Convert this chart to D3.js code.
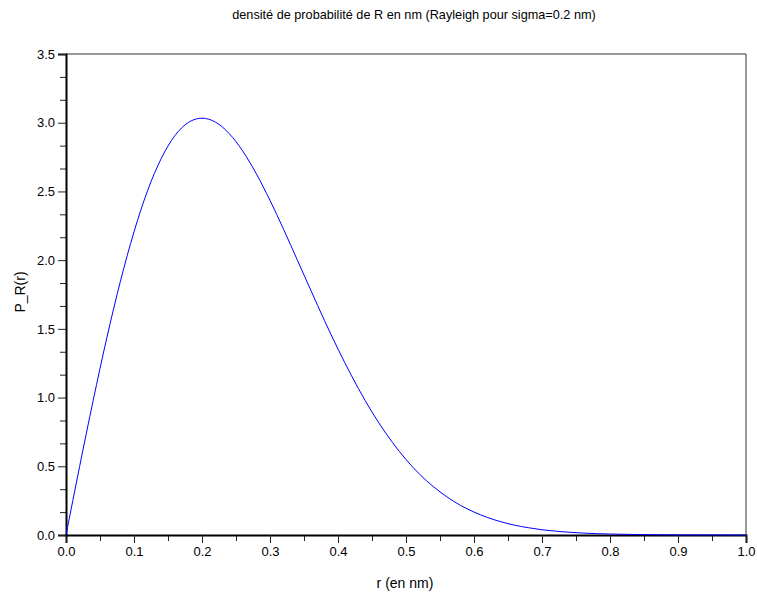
<!DOCTYPE html>
<html>
<head>
<meta charset="utf-8">
<script src="https://cdn.jsdelivr.net/npm/d3@7"></script>
<style>
body { margin: 0; background: #fff; }
svg { display: block; font-family: "Liberation Sans", Arial, sans-serif; }
</style>
</head>
<body>
<svg id="viz"></svg>
<script>
// values (r in nm, density)
var rValues = [0, 0.01, 0.02, 0.04, 0.06, 0.08, 0.10, 0.12, 0.14, 0.16, 0.18, 0.20,
    0.22, 0.24, 0.26, 0.28, 0.30, 0.32, 0.34, 0.36, 0.38, 0.40, 0.42, 0.44, 0.46,
    0.48, 0.50, 0.52, 0.54, 0.56, 0.58, 0.60, 0.62, 0.64, 0.66, 0.68, 0.70, 0.72,
    0.74, 0.76, 0.78, 0.80, 0.85, 0.90, 0.95, 1.00]
var pValues = [0, 0.250, 0.498, 0.980, 1.434, 1.846, 2.206, 2.506, 2.739, 2.905, 3.002, 3.033,
    3.004, 2.921, 2.793, 2.627, 2.435, 2.224, 2.003, 1.781, 1.562, 1.353, 1.158, 0.978, 0.816,
    0.674, 0.549, 0.442, 0.353, 0.278, 0.216, 0.167, 0.127, 0.096, 0.071, 0.053, 0.038, 0.028,
    0.020, 0.014, 0.010, 0.007, 0.0025, 0.0009, 0.0003, 0.0001]
var xTicks = [0, 0.1, 0.2, 0.3, 0.4, 0.5, 0.6, 0.7, 0.8, 0.9, 1.0]
var yTicks = [0, 0.5, 1.0, 1.5, 2.0, 2.5, 3.0, 3.5]

var width = 757,
    height = 594
var margin = { top: 54, right: 11, bottom: 59, left: 66 }

var data = rValues.map((r, i) => ({ r: r, p: pValues[i] }))

var x = d3.scaleLinear()
    .domain([0, 1])
    .range([margin.left, width - margin.right])
var y = d3.scaleLinear()
    .domain([0, 3.5])
    .range([height - margin.bottom, margin.top])

var svg = d3.select("#viz")
    .attr("width", width)
    .attr("height", height)
    .attr("viewBox", [0, 0, width, height])

// frame top / right
svg.append("path")
    .attr("d", `M${x(0)},${y(3.5)}H${x(1)}V${y(0)}`)
    .attr("fill", "none")
    .attr("stroke", "#333")
    .attr("stroke-width", 1)

// minor ticks
var xMinor = d3.range(0, 10).map(i => i * 0.1 + 0.05)
var yMinor = []
yTicks.slice(0, -1).forEach(t => { yMinor.push(t + 0.5 / 3, t + 1 / 3) })

svg.append("g")
    .attr("transform", `translate(0,${y(0)})`)
    .call(d3.axisBottom(x).tickValues(xMinor).tickSize(6).tickFormat(""))
    .call(g => g.select(".domain").remove())
svg.append("g")
    .attr("transform", `translate(${x(0)},0)`)
    .call(d3.axisLeft(y).tickValues(yMinor).tickSize(6).tickFormat(""))
    .call(g => g.select(".domain").remove())

var xAxis = g => g
    .attr("transform", `translate(0,${y(0)})`)
    .call(d3.axisBottom(x).tickValues(xTicks).tickSize(8).tickPadding(4).tickFormat(d3.format(".1f")))
var yAxis = g => g
    .attr("transform", `translate(${x(0)},0)`)
    .call(d3.axisLeft(y).tickValues(yTicks).tickSize(8).tickPadding(3).tickFormat(d3.format(".1f")))

svg.append("g").attr("class", "xaxis").call(xAxis)
svg.append("g").attr("class", "yaxis").call(yAxis)

svg.selectAll(".xaxis .domain, .yaxis .domain")
    .attr("stroke-width", 2)
svg.selectAll(".tick line").attr("stroke", "#222")
svg.selectAll(".tick text")
    .attr("font-size", 13)
    .attr("font-family", "Liberation Sans, Arial, sans-serif")
    .attr("fill", "#000")

// curve
var line = d3.line()
    .x(d => x(d.r))
    .y(d => y(d.p))
    .curve(d3.curveMonotoneX)

svg.append("path")
    .datum(data)
    .attr("fill", "none")
    .attr("stroke", "#0000ff")
    .attr("stroke-width", 1)
    .attr("d", line)

// texts
svg.append("text")
    .attr("x", 414)
    .attr("y", 19)
    .attr("text-anchor", "middle")
    .attr("font-size", 12.7)
    .text("densité de probabilité de R en nm (Rayleigh pour sigma=0.2 nm)")

svg.append("text")
    .attr("x", 405)
    .attr("y", 588)
    .attr("text-anchor", "middle")
    .attr("font-size", 14)
    .text("r (en nm)")

svg.append("text")
    .attr("transform", `translate(25,292) rotate(-90)`)
    .attr("text-anchor", "middle")
    .attr("font-size", 14)
    .text("P_R(r)")
</script>
</body>
</html>
